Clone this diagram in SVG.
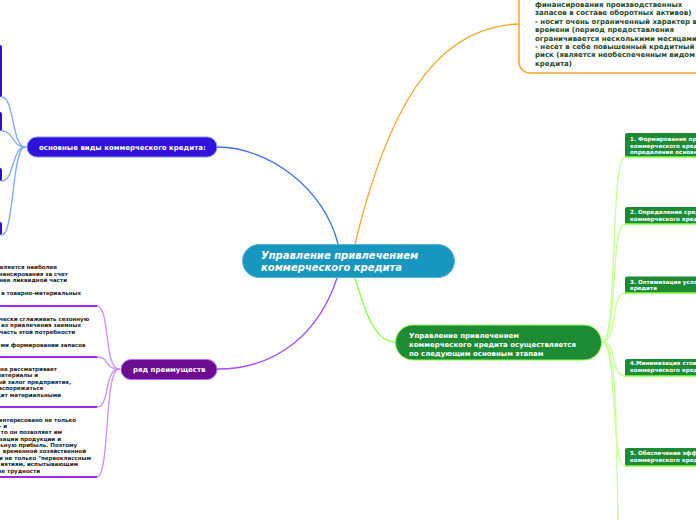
<svg xmlns="http://www.w3.org/2000/svg" width="696" height="520" viewBox="0 0 696 520">
<style>
text{font-family:"DejaVu Sans","Liberation Sans",sans-serif;font-weight:bold}
.c{fill:none;stroke-width:1.3;stroke-linecap:round}
.wt{fill:#fff;font-size:7px}
.lt{fill:#222;font-size:5.5px;text-anchor:end}
.rt{fill:#fff;font-size:5.6px}
.ot{fill:#1c4a2b;font-size:7px}
.ul{stroke:#a126ee;stroke-width:2;fill:none}
.gn{fill:#1d8a34}
.gl{stroke:#84ff3c;stroke-width:1.5}
.bn{fill:#2c10d4}
</style>
<rect width="696" height="520" fill="#fff"/>
<g id="connectors">
  <path class="c" stroke="#3a6ff5" d="M338,244 C325,190 270,147 217,147"/>
  <path class="c" stroke="#f7a326" d="M355,244 C385,120 430,26 519,24"/>
  <path class="c" stroke="#a64cff" d="M337,278 C320,330 280,369 217,369"/>
  <path class="c" stroke="#8cff3c" d="M355,278 C365,312 375,342 395,342"/>
  <g stroke="#7ea8ff">
    <path class="c" d="M25,147 C12,147 14,97 2,97"/>
    <path class="c" d="M25,147 C12,147 14,131 2,131"/>
    <path class="c" d="M25,147 C12,147 14,181 2,181"/>
    <path class="c" d="M25,147 C12,147 14,235 2,235"/>
  </g>
  <g stroke="#d08cff">
    <path class="c" d="M119,369 C104,369 110,306 97,306"/>
    <path class="c" d="M119,369 C104,369 110,357 97,357"/>
    <path class="c" d="M119,369 C104,369 110,407 97,407"/>
    <path class="c" d="M119,369 C104,369 110,477 97,477"/>
  </g>
  <g stroke="#c6ff92">
    <path class="c" d="M602,342 C618,342 610,157 625,157"/>
    <path class="c" d="M602,342 C618,342 610,224 625,224"/>
    <path class="c" d="M602,342 C618,342 610,293 625,293"/>
    <path class="c" d="M602,342 C618,342 610,376 625,376"/>
    <path class="c" d="M602,342 C618,342 610,466 625,466"/>
    <path class="c" d="M602,342 C618,342 616,430 618,522"/>
  </g>
</g>
<g id="center">
  <rect x="242.5" y="244.5" width="212" height="33" rx="16.5" fill="#1797bf" stroke="#5ab8d8" stroke-width="1"/>
  <text x="261" y="259" fill="#fff" font-size="10" font-style="italic">Управление привлечением</text>
  <text x="261" y="271" fill="#fff" font-size="10" font-style="italic">коммерческого кредита</text>
</g>
<g id="node-types">
  <rect x="27" y="137" width="190" height="20" rx="10" fill="#3012da" stroke="#7b93ff" stroke-width="1"/>
  <text class="wt" x="39" y="150">основные виды коммерческого кредита:</text>
</g>
<g id="type-1"><rect class="bn" x="-20" y="45" width="22" height="52" rx="2"/></g>
<g id="type-2"><rect class="bn" x="-20" y="112" width="22" height="19" rx="2"/></g>
<g id="type-3"><rect class="bn" x="-20" y="168" width="22" height="13" rx="2"/></g>
<g id="type-4"><rect class="bn" x="-20" y="222" width="22" height="13" rx="2"/></g>
<g id="node-advantages">
  <rect x="121" y="359.5" width="96" height="20" rx="10" fill="#6c0d8e" stroke="#b66bff" stroke-width="1"/>
  <text class="wt" x="133" y="372">ряд преимуществ</text>
</g>
<g id="adv-1">
  <text class="lt" x="57" y="269">является наиболее</text>
  <text class="lt" x="68" y="275.5">финансирования за счет</text>
  <text class="lt" x="67" y="282">менее ликвидной части</text>
  <text class="lt" x="81" y="295">в товарно-материальных</text>
  <path class="ul" d="M-2,306 H97"/>
</g>
<g id="adv-2">
  <text class="lt" x="89" y="320.5">чески сглаживать сезонную</text>
  <text class="lt" x="81" y="327">ах привлечения заемных</text>
  <text class="lt" x="75" y="333.5">часть этой потребности</text>
  <text class="lt" x="85.5" y="346.5">ми формировании запасов</text>
  <path class="ul" d="M-2,357 H97"/>
</g>
<g id="adv-3">
  <text class="lt" x="57" y="370.5">не рассматривает</text>
  <text class="lt" x="38" y="377">материалы и</text>
  <text class="lt" x="71" y="383.5">ый залог предприятия,</text>
  <text class="lt" x="43" y="390">распоряжаться</text>
  <text class="lt" x="61" y="396.5">дит материальными</text>
  <path class="ul" d="M-2,407 H97"/>
</g>
<g id="adv-4">
  <text class="lt" x="76" y="421.5">интересовано не только</text>
  <text class="lt" x="7" y="428">- и</text>
  <text class="lt" x="62" y="434">то он позволяет им</text>
  <text class="lt" x="61" y="440.5">зации продукции и</text>
  <text class="lt" x="77" y="447">ьную прибыль. Поэтому</text>
  <text class="lt" x="86" y="453">временной хозяйственной</text>
  <text class="lt" x="91" y="459.5">и не только "первоклассным</text>
  <text class="lt" x="78" y="466">иятиям, испытывающим</text>
  <text class="lt" x="40" y="472.5">ые трудности</text>
  <path class="ul" d="M-2,477 H97"/>
</g>
<g id="node-features">
  <rect x="519" y="-40" width="200" height="113" rx="11" fill="#fff" stroke="#f7a42a" stroke-width="1.5"/>
  <text class="ot" x="535" y="7">финансирования производственных</text>
  <text class="ot" x="535" y="15.4">запасов в составе оборотных активов)</text>
  <text class="ot" x="535" y="23.8">- носит очень ограниченный характер в</text>
  <text class="ot" x="535" y="32.2">времени (период предоставления</text>
  <text class="ot" x="535" y="40.6">ограничивается несколькими месяцами)</text>
  <text class="ot" x="535" y="49">- несет в себе повышенный кредитный</text>
  <text class="ot" x="535" y="57.4">риск (является необеспеченным видом</text>
  <text class="ot" x="535" y="65.8">кредита)</text>
</g>
<g id="node-stages">
  <rect x="395.5" y="325" width="206" height="35" rx="17.5" fill="#1d8a34" stroke="#8cff4a" stroke-width="1"/>
  <text class="wt" x="409" y="337.5">Управление привлечением</text>
  <text class="wt" x="409" y="346.5">коммерческого кредита осуществляется</text>
  <text class="wt" x="409" y="355.5">по следующим основным этапам</text>
</g>
<g id="stage-1">
  <rect class="gn" x="625" y="133" width="80" height="24" rx="2"/>
  <path class="gl" d="M625,157 H700"/>
  <text class="rt" x="630" y="141">1. Формирование пр</text>
  <text class="rt" x="630" y="147.5">коммерческого кред</text>
  <text class="rt" x="630" y="154">определение основн</text>
</g>
<g id="stage-2">
  <rect class="gn" x="625" y="207" width="80" height="17" rx="2"/>
  <path class="gl" d="M625,224 H700"/>
  <text class="rt" x="630" y="214">2. Определение сред</text>
  <text class="rt" x="630" y="220.5">коммерческого кред</text>
</g>
<g id="stage-3">
  <rect class="gn" x="625" y="276.5" width="80" height="16.5" rx="2"/>
  <path class="gl" d="M625,293 H700"/>
  <text class="rt" x="630" y="283.5">3. Оптимизация усло</text>
  <text class="rt" x="630" y="290">кредита</text>
</g>
<g id="stage-4">
  <rect class="gn" x="625" y="359" width="80" height="17" rx="2"/>
  <path class="gl" d="M625,376 H700"/>
  <text class="rt" x="630" y="365">4.Минимизация стои</text>
  <text class="rt" x="630" y="371.5">коммерческого кред</text>
</g>
<g id="stage-5">
  <rect class="gn" x="625" y="448" width="80" height="18" rx="2"/>
  <path class="gl" d="M625,466 H700"/>
  <text class="rt" x="630" y="455">5. Обеспечение эфф</text>
  <text class="rt" x="630" y="461.5">коммерческого кред</text>
</g>
</svg>
